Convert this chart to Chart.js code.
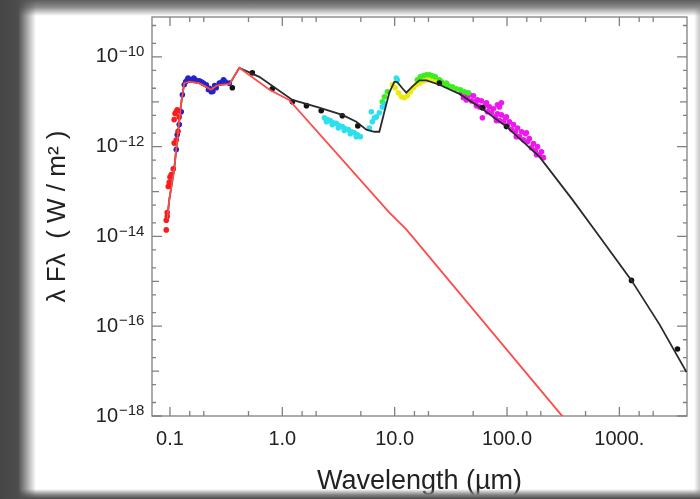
<!DOCTYPE html>
<html>
<head>
<meta charset="utf-8">
<script src="https://cdn.jsdelivr.net/npm/chart.js@4/dist/chart.umd.min.js"></script>
<style>
  html, body { margin: 0; padding: 0; background: #fff; }
  #wrap { position: relative; width: 700px; height: 499px; overflow: hidden; background: #fff; }
  #sed { position: absolute; left: 0; top: 0; filter: blur(0.7px); }
  #frame {
    position: absolute; left: 0; top: 0; width: 700px; height: 499px; pointer-events: none;
    background:
      linear-gradient(to right, #454545 0, #4d4d4d 18px, rgba(255,255,255,0) 36px),
      linear-gradient(to bottom, #5e5e5e 0, #8a8a8a 7px, rgba(255,255,255,0) 16px),
      linear-gradient(to top, #4a4a4a 0, #808080 4px, rgba(255,255,255,0) 10px),
      linear-gradient(to left, rgba(160,160,160,0.6) 0, rgba(255,255,255,0) 6px);
  }
</style>
</head>
<body>
<div id="wrap">
  <canvas id="sed" width="700" height="499"></canvas>
  <div id="frame"></div>
</div>
<script>
// axis ticks
const xTicks = [0.1, 1, 10, 100, 1000];
const xTickLabels = ['0.1', '1.0', '10.0', '100.0', '1000.'];
const yTicks = [1e-18, 1e-16, 1e-14, 1e-12, 1e-10];
const yTickLabels = ['10', '10', '10', '10', '10'];
const yTickExps = ['−18', '−16', '−14', '−12', '−10'];

// stellar photosphere model (red line)
const starWave = [0.0946, 0.0986, 0.109, 0.116, 0.126, 0.134, 0.149, 0.182, 0.21, 0.233, 0.26, 0.29, 0.34, 0.414, 0.77, 1.15, 8.97, 12.7, 305, 600];
const starFlux = [2.4e-14, 6.6e-14, 3.1e-13, 1.43e-12, 9.5e-12, 2.6e-11, 2.8e-11, 2.6e-11, 2.15e-11, 1.85e-11, 2.3e-11, 2.4e-11, 2.5e-11, 5.7e-11, 1.85e-11, 1.1e-11, 3.4e-14, 1.43e-14, 1.05e-18, 1.4e-19];

// total model (black line)
const modelWave = [0.0946, 0.0986, 0.109, 0.116, 0.126, 0.134, 0.149, 0.182, 0.21, 0.233, 0.26, 0.29, 0.34, 0.414, 0.624, 1.23, 2.13, 3.42, 4.56, 5.6, 6.6, 7.31, 8.1, 8.97, 9.94, 10.6, 11.7, 12.7, 14.4, 16.6, 19.2, 25, 37.7, 56.8, 98.8, 194, 382, 665, 1282, 2275, 3960];
const modelFlux = [2.4e-14, 6.6e-14, 3.1e-13, 1.43e-12, 9.5e-12, 2.6e-11, 2.8e-11, 2.6e-11, 2.15e-11, 1.85e-11, 2.3e-11, 2.4e-11, 2.5e-11, 5.7e-11, 3.6e-11, 1.1e-11, 7.4e-12, 5.1e-12, 3.6e-12, 2.4e-12, 2.15e-12, 2.15e-12, 6.0e-12, 1.6e-11, 2.8e-11, 2.7e-11, 2.0e-11, 1.6e-11, 2.2e-11, 3.0e-11, 3.0e-11, 2.4e-11, 1.5e-11, 7.7e-12, 2.8e-12, 6.0e-13, 6.6e-14, 1.0e-14, 1.05e-15, 1.1e-16, 9.5e-18];

// photometry / spectra
const redWave = [0.0927, 0.0927, 0.0946, 0.0946, 0.0966, 0.0986, 0.100, 0.1028, 0.107, 0.109, 0.1138, 0.109, 0.111, 0.1138, 0.116, 0.121, 0.118];
const redFlux = [1.4e-14, 2.3e-14, 2.8e-14, 3.4e-14, 1.3e-13, 1.6e-13, 2.1e-13, 2.4e-13, 3.2e-13, 1.2e-12, 1.4e-12, 4.0e-12, 5.5e-12, 6.0e-12, 6.6e-12, 4.6e-12, 2.2e-12];

const blueWave = [0.1138, 0.116, 0.121, 0.126, 0.129, 0.134, 0.138, 0.1426, 0.1486, 0.158, 0.168, 0.1824, 0.198, 0.2105, 0.224, 0.2333, 0.241, 0.2583, 0.275, 0.292, 0.3107, 0.3373, 0.145, 0.163, 0.19, 0.22, 0.25, 0.30];
const blueFlux = [8.6e-13, 1.85e-12, 3.1e-12, 6.0e-12, 1.43e-11, 2.4e-11, 2.8e-11, 3.1e-11, 3.1e-11, 3.1e-11, 3.1e-11, 2.95e-11, 2.6e-11, 2.4e-11, 2.0e-11, 1.67e-11, 1.7e-11, 2.05e-11, 2.6e-11, 2.8e-11, 2.8e-11, 2.6e-11, 3.4e-11, 3.4e-11, 2.8e-11, 1.85e-11, 2.3e-11, 3.1e-11];

const blackWave = [0.359, 0.541, 0.815, 1.23, 1.64, 2.22, 3.42, 4.7, 25, 60.4, 98.8, 1282, 3290];
const blackFlux = [2.05e-11, 4.4e-11, 1.95e-11, 1.0e-11, 8.2e-12, 6.3e-12, 4.9e-12, 2.9e-12, 2.6e-11, 7.4e-12, 2.8e-12, 1.05e-15, 3.1e-17];

const cyanWave = [2.37, 2.52, 2.67, 2.84, 3.02, 3.22, 3.42, 3.64, 3.87, 4.12, 4.38, 4.66, 4.95, 2.47, 2.78, 3.15, 3.56, 4.03, 4.56, 5.95, 6.2, 6.33, 6.6, 6.87, 7.31, 7.77, 8.1, 10.35, 10.57];
const cyanFlux = [4.4e-12, 4.0e-12, 3.8e-12, 3.4e-12, 3.3e-12, 2.9e-12, 2.8e-12, 2.5e-12, 2.4e-12, 2.15e-12, 2.05e-12, 1.85e-12, 1.67e-12, 3.6e-12, 3.1e-12, 2.6e-12, 2.3e-12, 1.95e-12, 1.67e-12, 2.6e-12, 6.0e-12, 3.6e-12, 4.4e-12, 4.6e-12, 5.7e-12, 7.7e-12, 9.0e-12, 3.4e-11, 3.1e-11];

const yellowWave = [9.55, 10.1, 10.8, 11.5, 12.2, 13.0, 13.8, 14.7, 15.6, 16.6, 18.0, 19.5, 21.2, 23.0];
const yellowFlux = [2.4e-11, 2.05e-11, 1.58e-11, 1.29e-11, 1.23e-11, 1.36e-11, 1.67e-11, 2.05e-11, 2.4e-11, 2.6e-11, 2.9e-11, 3.1e-11, 3.1e-11, 2.9e-11];

const greenWave = [7.77, 8.1, 8.61, 15.9, 16.9, 18.0, 19.2, 20.4, 21.7, 23.0, 25.0, 27.7, 30.1, 32.7, 35.4, 38.5, 41.8, 45.3, 26.1, 28.9];
const greenFlux = [1.0e-11, 1.29e-11, 1.67e-11, 3.1e-11, 3.6e-11, 3.8e-11, 4.0e-11, 4.0e-11, 3.8e-11, 3.6e-11, 3.1e-11, 2.5e-11, 2.27e-11, 2.15e-11, 1.95e-11, 1.85e-11, 1.67e-11, 1.58e-11, 2.8e-11, 2.6e-11];

const magentaWave = [39.3, 40.9, 42.7, 44.4, 46.3, 48.3, 50.3, 52.4, 54.5, 56.8, 59.2, 61.7, 64.3, 66.9, 69.7, 72.7, 75.7, 78.9, 82.2, 85.6, 89.2, 93.0, 96.9, 101, 105, 110, 114, 119, 124, 129, 135, 140, 146, 152, 158, 165, 172, 179, 187, 194, 203, 211, 43.5, 53.4, 65.6, 80.5, 98.8, 121, 149, 183, 60.4, 85.6, 89.2, 82.2];
const magentaFlux = [1.58e-11, 1.23e-11, 1.58e-11, 1.29e-11, 1.43e-11, 1.05e-11, 1.36e-11, 1.0e-11, 1.1e-11, 7.7e-12, 1.05e-11, 7.4e-12, 8.6e-12, 6.0e-12, 7.7e-12, 5.7e-12, 7.0e-12, 4.6e-12, 5.4e-12, 3.8e-12, 5.1e-12, 3.6e-12, 4.4e-12, 2.9e-12, 3.6e-12, 2.4e-12, 3.1e-12, 2.15e-12, 2.6e-12, 1.67e-12, 2.15e-12, 1.43e-12, 1.95e-12, 1.29e-12, 1.51e-12, 9.5e-13, 1.17e-12, 8.2e-13, 1.0e-12, 6.6e-13, 7.7e-13, 5.7e-13, 1.1e-11, 8.2e-12, 9.5e-12, 3.8e-12, 4.6e-12, 1.67e-12, 2.05e-12, 6.6e-13, 4.4e-12, 7.7e-12, 9.5e-12, 8.6e-12];

const pairs = (xs, ys) => xs.map((x, i) => ({ x, y: ys[i] }));

function lineSet(label, xs, ys, color, order) {
  return { label, data: pairs(xs, ys), showLine: true, borderColor: color, borderWidth: 1.8,
           pointRadius: 0, tension: 0, order };
}
function dotSet(label, xs, ys, color) {
  return { label, data: pairs(xs, ys), showLine: false, backgroundColor: color, borderWidth: 0,
           pointRadius: 2.8, order: 2 };
}

const font = 'Liberation Sans, Arial, Helvetica, sans-serif';

// inward IDL-style ticks, box and the exponents of the y labels
const frameTicks = {
  id: 'frameTicks',
  beforeDatasetsDraw(chart) {
    const { ctx, chartArea: a, scales: { x, y } } = chart;
    ctx.save();
    ctx.strokeStyle = '#808080';
    ctx.lineWidth = 1.3;
    ctx.strokeRect(a.left, a.top, a.right - a.left, a.bottom - a.top);
    ctx.beginPath();
    for (let e = -2; e <= 3; e++) {
      for (const m of [1, 1.5, 2, 5]) {
        const v = m * Math.pow(10, e);
        if (v < x.min || v > x.max) continue;
        const px = x.getPixelForValue(v);
        const len = m === 1 ? 9 : 5;
        ctx.moveTo(px, a.bottom); ctx.lineTo(px, a.bottom - len);
        ctx.moveTo(px, a.top); ctx.lineTo(px, a.top + len);
      }
    }
    for (let e = -18; e <= -9; e++) {
      for (const m of [1, 2, 5]) {
        const v = m * Math.pow(10, e);
        if (v < y.min || v > y.max) continue;
        const py = y.getPixelForValue(v);
        const len = m === 1 ? (e % 2 === 0 ? 10 : 7) : 4;
        ctx.moveTo(a.left, py); ctx.lineTo(a.left + len, py);
        ctx.moveTo(a.right, py); ctx.lineTo(a.right - len, py);
      }
    }
    ctx.stroke();

    ctx.fillStyle = '#222';
    ctx.font = '15px ' + font;
    ctx.textAlign = 'left';
    ctx.textBaseline = 'middle';
    yTicks.forEach((v, i) => {
      ctx.fillText(yTickExps[i], a.left - 33, y.getPixelForValue(v) - 5);
    });
    ctx.restore();
  }
};

new Chart(document.getElementById('sed').getContext('2d'), {
  type: 'scatter',
  data: {
    datasets: [
      lineSet('Photosphere', starWave, starFlux, '#ff4a4a', 0),
      lineSet('Model', modelWave, modelFlux, '#2a2a2a', 1),
      dotSet('UV', redWave, redFlux, '#ff1a1a'),
      dotSet('UV spectrum', blueWave, blueFlux, '#2323cc'),
      dotSet('Photometry', blackWave, blackFlux, '#111111'),
      dotSet('Near-IR spectrum', cyanWave, cyanFlux, '#2ee0ee'),
      dotSet('Mid-IR spectrum', greenWave, greenFlux, '#3cee1c'),
      dotSet('Mid-IR spectrum 2', yellowWave, yellowFlux, '#eaea10'),
      dotSet('Far-IR spectrum', magentaWave, magentaFlux, '#ee18ee')
    ]
  },
  options: {
    responsive: false,
    animation: false,
    layout: { padding: { top: 17, right: 13, left: 0, bottom: 0 } },
    plugins: { legend: { display: false }, tooltip: { enabled: false } },
    scales: {
      x: {
        type: 'logarithmic',
        min: 0.0692,
        max: 4000,
        grid: { display: false, drawTicks: false },
        border: { display: false },
        afterBuildTicks: s => { s.ticks = xTicks.map(v => ({ value: v })); },
        afterFit: s => { s.height = 83; s.paddingLeft = 0; s.paddingRight = 0; },
        ticks: {
          autoSkip: false, maxRotation: 0, padding: 11, color: '#222',
          font: { family: font, size: 20 },
          callback: (v, i) => xTickLabels[i]
        },
        title: {
          display: true, text: 'Wavelength (µm)', color: '#222',
          font: { family: font, size: 27 }, padding: { top: 0, bottom: 1 }
        }
      },
      y: {
        type: 'logarithmic',
        min: 1e-18,
        max: 7.74e-10,
        grid: { display: false, drawTicks: false },
        border: { display: false },
        afterBuildTicks: s => { s.ticks = yTicks.map(v => ({ value: v })); },
        afterFit: s => { s.width = 152; s.paddingTop = 0; s.paddingBottom = 0; },
        ticks: {
          autoSkip: false, padding: 34, color: '#222',
          font: { family: font, size: 20 },
          callback: (v, i) => yTickLabels[i]
        },
        title: {
          display: true, text: 'λ Fλ  ( W / m² )', color: '#222',
          font: { family: font, size: 26 }, padding: { top: 42, bottom: 0 }
        }
      }
    }
  },
  plugins: [frameTicks]
});
</script>
</body>
</html>
